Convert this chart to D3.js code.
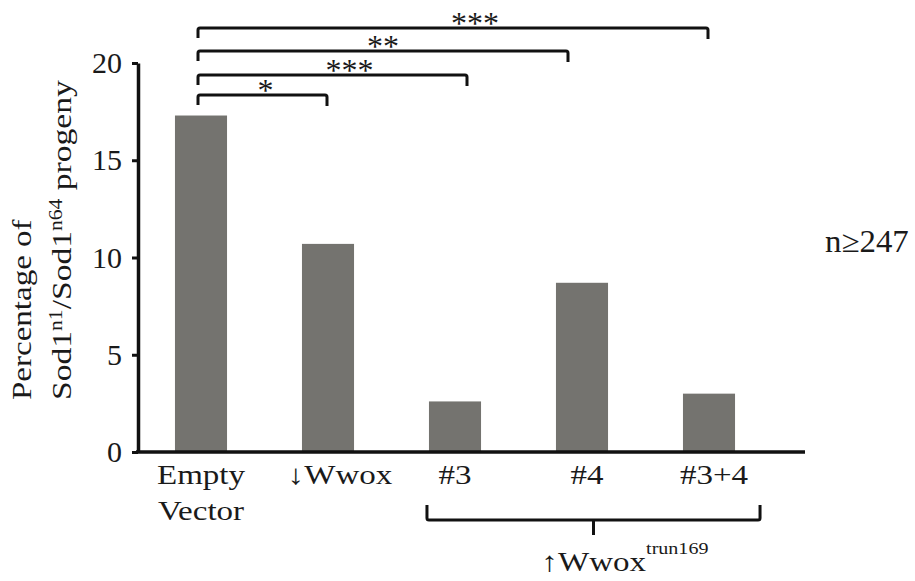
<!DOCTYPE html>
<html lang="en">
<head>
<meta charset="UTF-8">
<title>Percentage of Sod1 n1/n64 progeny</title>
<style>
  body { margin: 0; background: #fff; }
  svg { display: block; }
  .bar { fill: #74736f; }
  .axis path, .axis line { stroke: #111; }
  .axis path { stroke-width: 3.5; }
  .axis line { stroke-width: 3; }
  .lbl { fill: #1a1a1a; }
  .bracket { fill: none; stroke: #111; stroke-width: 3; stroke-linejoin: round; }
</style>
</head>
<body>
<svg id="chart" width="915" height="581"></svg>
<script src="https://d3js.org/d3.v7.min.js"></script>
<script>
// data
const categories = ["Empty Vector", "↓Wwox", "#3", "#4", "#3+4"];
const values = [17.3, 10.7, 2.6, 8.7, 3.0];
const yTicks = [0, 5, 10, 15, 20];

// significance brackets (first bar against the others)
const compFrom = [0, 0, 0, 0];
const compTo = [1, 2, 3, 4];
const compStars = ["*", "***", "**", "***"];

// layout tweaks for the brackets / labels
const bracketY = [95, 75, 51, 28];
const bracketEndNudge = [-1, 12, -14, -1];
const starNudge = [3, 17, 0, 22];
const labelNudge = [0, 12, 0, 5, 5];

const FONT = "Liberation Serif";
const svg = d3.select("#chart");

const x = d3.scaleBand()
    .domain(categories)
    .range([137.5, 772.5])
    .paddingInner(0.59)
    .paddingOuter(0.295);

const y = d3.scaleLinear()
    .domain([0, 20])
    .range([452, 63]);

function stretchText(sel, px, py, sx, size, anchor) {
    return sel.append("text")
        .attr("class", "lbl")
        .attr("font-family", FONT)
        .attr("transform", `translate(${px},${py}) scale(${sx},1)`)
        .attr("font-size", size)
        .attr("text-anchor", anchor);
}

// bars
svg.selectAll(".bar")
    .data(values)
    .join("rect")
    .attr("class", "bar")
    .attr("x", (d, i) => x(categories[i]))
    .attr("y", d => y(d))
    .attr("width", x.bandwidth())
    .attr("height", d => y(0) - y(d));

// y axis
const yAxis = svg.append("g")
    .attr("class", "axis")
    .attr("transform", "translate(138,0)")
    .call(d3.axisLeft(y).tickValues(yTicks).tickSize(6).tickPadding(10).tickSizeOuter(0));
yAxis.attr("font-family", FONT).attr("font-size", 30);
yAxis.selectAll("text").attr("fill", "#1a1a1a");

// x axis line
svg.append("line")
    .attr("x1", 136).attr("x2", 805)
    .attr("y1", y(0)).attr("y2", y(0))
    .attr("stroke", "#111").attr("stroke-width", 3.5);

// category labels
categories.forEach((c, i) => {
    const cx = x(c) + x.bandwidth() / 2 + labelNudge[i];
    c.split(" ").forEach((part, k) => {
        stretchText(svg, cx, 484 + k * 36, 1.18, 28, "middle").text(part);
    });
});

// y title (two lines, rotated)
stretchText(svg, 0, 0, 1, 28, "start")
    .attr("transform", "translate(31,400) rotate(-90) scale(1.18,1)")
    .text("Percentage of");
const t2 = stretchText(svg, 0, 0, 1, 28, "start")
    .attr("transform", "translate(71,400) rotate(-90) scale(1.2,1)");
t2.append("tspan").text("Sod1");
t2.append("tspan").attr("font-size", 18).attr("dy", -9).text("n1");
t2.append("tspan").attr("dy", 9).text("/Sod1");
t2.append("tspan").attr("font-size", 18).attr("dy", -9).text("n64");
t2.append("tspan").attr("dy", 9).text(" progeny");

// significance brackets
compFrom.forEach((f, i) => {
    const x0 = x(categories[f]) + x.bandwidth() / 2 - 3;
    const x1 = x(categories[compTo[i]]) + x.bandwidth() / 2 + bracketEndNudge[i];
    const by = bracketY[i];
    svg.append("path")
        .attr("class", "bracket")
        .attr("d", `M${x0},${by + 10} L${x0},${by + 2} Q${x0},${by} ${x0 + 2},${by} L${x1 - 2},${by} Q${x1},${by} ${x1},${by + 2} L${x1},${by + 11}`);
    stretchText(svg, (x0 + x1) / 2 + starNudge[i], by + 6, 1.0, 32, "middle")
        .text(compStars[i]);
});

// group bracket under the Wwox-trun169 lines
const gx0 = x(categories[2]) - 2;
const gx1 = x(categories[4]) + x.bandwidth() + 25;
const gm = (gx0 + gx1) / 2;
svg.append("path")
    .attr("class", "bracket")
    .attr("stroke-width", 3.5)
    .attr("d", `M${gx0},505 L${gx0},518 Q${gx0},520 ${gx0 + 2},520 L${gx1 - 2},520 Q${gx1},520 ${gx1},518 L${gx1},505 M${gm},520 L${gm},535`);

const g = stretchText(svg, gm - 52, 571, 1.18, 28, "start");
g.append("tspan").text("↑Wwox");
g.append("tspan").attr("font-size", 17).attr("dy", -17).text("trun169");

// sample size note
stretchText(svg, 825, 252, 1.06, 31, "start").text("n≥247");
</script>
</body>
</html>
